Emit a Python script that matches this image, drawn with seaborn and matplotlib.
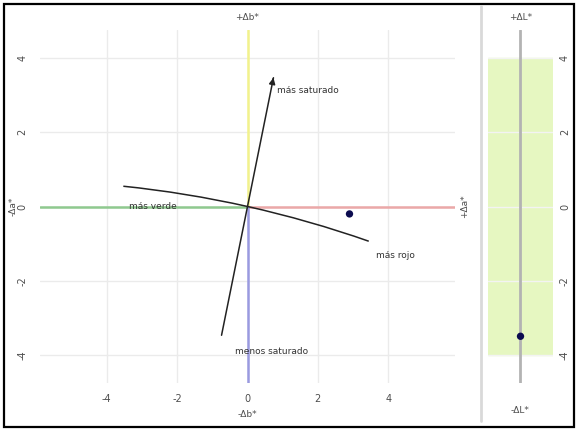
import matplotlib
matplotlib.use("Agg")
import numpy as np
import pandas as pd
import matplotlib.pyplot as plt
import seaborn as sns
from matplotlib.patches import Arc, Rectangle, FancyArrowPatch
from matplotlib.lines import Line2D

# Colour difference of the sample relative to the standard
sample_da = [2.9]
sample_db = [-0.2]
sample_dL = [-3.5]

# Standard's chroma and hue angle (degrees), used for the hue arc and chroma axis
std_chroma = 32.0
std_hue = 78.0
chroma_half_len = 3.55
hue_span = 6.4

# Lightness tolerance band
dL_tol = [-4.0, 4.0]

grid_ticks = [-4, -2, 0, 2, 4]
tick_labels = ["-4", "-2", "0", "2", "4"]

sns.set_theme(style="white")
plt.rcParams["font.family"] = ["DejaVu Sans"]

W, H = 578, 430
fig = plt.figure(figsize=(W / 100, H / 100), dpi=100)
fig.patch.set_facecolor("white")

def frac(x0, y0, x1, y1):
    return [x0 / W, 1 - y1 / H, (x1 - x0) / W, (y1 - y0) / H]

ax = fig.add_axes(frac(40, 30, 455, 383))
axL = fig.add_axes(frac(488, 30, 553, 383))

tick_col = "#4d4d4d"
grid_col = "#ebebeb"
XL, YL = 5.9, 4.76

# ---- a*/b* plane ----
ax.set_xlim(-XL, XL)
ax.set_ylim(-YL, YL)
for s in ax.spines.values():
    s.set_visible(False)
ax.grid(True, color=grid_col, lw=1.0, zorder=0)

# colour axes
ax.plot([-XL, 0], [0, 0], color="#8fc98f", lw=1.8, zorder=1)
ax.plot([0, XL], [0, 0], color="#eba8a8", lw=1.8, zorder=1)
ax.plot([0, 0], [0, YL], color="#f2f28c", lw=1.8, zorder=1)
ax.plot([0, 0], [-YL, 0], color="#9a9ae0", lw=1.8, zorder=1)

# chroma direction through the origin
th = np.deg2rad(std_hue)
ux, uy = np.cos(th), np.sin(th)
chroma_df = pd.DataFrame({"da": [-chroma_half_len * ux, chroma_half_len * ux],
                          "db": [-chroma_half_len * uy, chroma_half_len * uy]})
sns.lineplot(data=chroma_df, x="da", y="db", sort=False, color="#222222",
             lw=1.1, ax=ax, zorder=3)
ax.add_patch(FancyArrowPatch((chroma_df.da[1] - 0.12 * ux, chroma_df.db[1] - 0.12 * uy),
                             (chroma_df.da[1], chroma_df.db[1]),
                             arrowstyle="-|>", mutation_scale=9, color="#222222",
                             lw=1.1, zorder=3))

# hue arc of constant chroma through the standard
cx, cy = -std_chroma * ux, -std_chroma * uy
ax.add_patch(Arc((cx, cy), 2 * std_chroma, 2 * std_chroma, theta1=std_hue - hue_span,
                 theta2=std_hue + hue_span, color="#222222", lw=1.1, zorder=3))

sns.scatterplot(x=sample_da, y=sample_db, color="#0b0b4f", s=28, edgecolor="none",
                ax=ax, zorder=5)

ax.set_xlabel("")
ax.set_ylabel("")
ax.set_xticks(grid_ticks)
ax.set_xticklabels(tick_labels)
ax.set_yticks(grid_ticks)
ax.set_yticklabels(tick_labels, rotation=90, va="center")
ax.tick_params(axis="both", length=0, labelsize=7, colors=tick_col)
ax.tick_params(axis="x", pad=8)
ax.tick_params(axis="y", pad=9)

ann = dict(fontsize=6.5, color="#333333", zorder=6)
ax.text(0.85, 3.14, "más saturado", ha="left", va="center", **ann)
ax.text(0.67, -3.92, "menos saturado", ha="center", va="center", **ann)
ax.text(-3.38, 0.0, "más verde", ha="left", va="center", **ann)
ax.text(3.64, -1.31, "más rojo", ha="left", va="center", **ann)

lab = dict(fontsize=6.5, color=tick_col)
ax.text(0.5, 1.034, "+Δb*", transform=ax.transAxes, ha="center", va="center", **lab)
ax.text(0.5, -0.088, "-Δb*", transform=ax.transAxes, ha="center", va="center", **lab)
ax.text(-0.066, 0.5, "-Δa*", transform=ax.transAxes, ha="center", va="center",
        rotation=90, **lab)
ax.text(1.024, 0.5, "+Δa*", transform=ax.transAxes, ha="center", va="center",
        rotation=90, **lab)

# ---- lightness panel ----
axL.set_xlim(-1, 1)
axL.set_ylim(-YL, YL)
for s in axL.spines.values():
    s.set_visible(False)
axL.axhspan(dL_tol[0], dL_tol[1], color="#e6f7c1", zorder=0)
for t in grid_ticks:
    axL.axhline(t, color="#f3f3f3", lw=1.0, zorder=1)
axL.plot([0, 0], [-YL, YL], color="#b3b3b3", lw=2.0, zorder=2)
sns.scatterplot(x=[0.0], y=sample_dL, color="#0b0b4f", s=28, edgecolor="none",
                ax=axL, zorder=5)
axL.set_xlabel("")
axL.set_ylabel("")
axL.set_xticks([])
axL.set_yticks(grid_ticks)
axL.set_yticklabels(tick_labels, rotation=90, va="center")
axL.yaxis.tick_right()
axL.tick_params(axis="y", length=0, labelsize=7, colors=tick_col, pad=5)
axL.text(0.5, 1.034, "+ΔL*", transform=axL.transAxes, ha="center", va="center", **lab)
axL.text(0.5, -0.077, "-ΔL*", transform=axL.transAxes, ha="center", va="center", **lab)

# panel separator and outer frame
fig.add_artist(Line2D([481 / W, 481 / W], [1 - 6 / H, 1 - 421 / H],
                      color="#d9d9d9", lw=2.0))
fig.add_artist(Rectangle((4 / W, 1 - 427 / H), 570 / W, 423 / H, fill=False,
                         edgecolor="black", lw=1.6))

fig.savefig("out.png", dpi=100)
